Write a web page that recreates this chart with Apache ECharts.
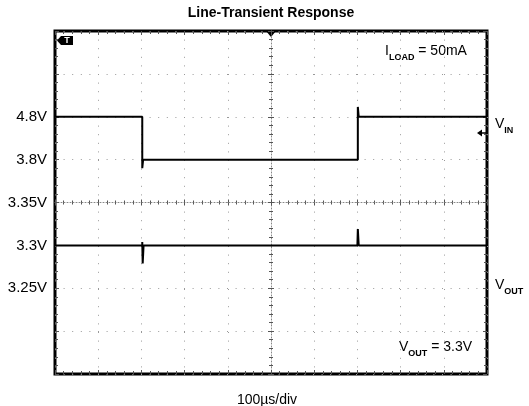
<!DOCTYPE html>
<html>
<head>
<meta charset="utf-8">
<script src="https://cdn.jsdelivr.net/npm/echarts@6.0.0/dist/echarts.min.js"></script>
<style>
  html, body { margin: 0; padding: 0; background: #fff; }
  #chart { width: 529px; height: 406px; }
</style>
</head>
<body>
<div id="chart"></div>
<script>
// scope screen: 10 x 8 divisions, time in µs relative to trigger (centre)
const divTicks = [-2, -1, 0, 1, 2];
const divTickLabels = ['3.25V', '3.3V', '3.35V', '3.8V', '4.8V'];

// V_IN trace (1V/div)
const vinTime  = [-500, -298, -298, -296, 201, 201, 203, 500];
const vinVolts = [4.8, 4.8, 3.6, 3.8, 3.8, 5.03, 4.8, 4.8];

// V_OUT trace (50mV/div)
const voutTime  = [-500, -298, -298, -297, -295, 200, 201, 203, 500];
const voutVolts = [3.3, 3.3, 3.304, 3.279, 3.3, 3.3, 3.319, 3.3, 3.3];

const FONT = 'Liberation Sans, Arial, sans-serif';

const chartDom = document.getElementById('chart');
const myChart = echarts.init(chartDom);

const dotted = { color: '#999', width: 1, type: [1, 7.6] };
const centreLine = { color: '#888', width: 1, type: [1, 2] };
const tickStyle = { color: '#555', width: 1 };

function frameAxis(pos, extra) {
    return Object.assign({
        type: 'value',
        position: pos,
        axisLine: { show: false, onZero: false },
        axisTick: { show: true, inside: true, length: 4, lineStyle: tickStyle },
        minorTick: { show: true, splitNumber: 5, length: 3, lineStyle: tickStyle },
        axisLabel: { show: false },
        splitLine: { show: false }
    }, extra);
}

function centreAxis(pos, inside, showLine) {
    return {
        type: 'value',
        position: pos,
        axisLine: { show: showLine, onZero: true, onZeroAxisIndex: 0, lineStyle: centreLine },
        axisTick: { show: true, inside: inside, length: 3, lineStyle: tickStyle },
        minorTick: { show: true, splitNumber: 5, length: 2, lineStyle: tickStyle },
        axisLabel: { show: false },
        splitLine: { show: false }
    };
}

const xRange = { min: -500, max: 500, interval: 100 };
const yRange = { min: -4, max: 4, interval: 1 };

const richSub = {
    m: { fontSize: 14, fontFamily: FONT, lineHeight: 15, verticalAlign: 'top' },
    s: { fontSize: 9, fontWeight: 'bold', fontFamily: FONT, lineHeight: 9, verticalAlign: 'bottom', padding: [0, 0, -3, 0] }
};

const option = {
    animation: false,
    textStyle: { fontFamily: FONT },
    grid: {
        left: 55, right: 42, top: 31, bottom: 32,
        outerBoundsMode: 'none', containLabel: false,
        show: true, borderColor: '#000', borderWidth: 3, backgroundColor: 'transparent'
    },
    xAxis: [
        frameAxis('bottom', Object.assign({}, xRange, {
            splitLine: { show: true, lineStyle: dotted },
            name: '100µs/div', nameLocation: 'middle', nameGap: 19,
            nameTextStyle: { fontSize: 14, color: '#000', fontFamily: FONT, padding: [0, 8, 0, 0] }
        })),
        frameAxis('top', xRange),
        Object.assign(centreAxis('bottom', true, true), xRange),
        Object.assign(centreAxis('bottom', false, false), xRange)
    ],
    yAxis: [
        frameAxis('left', Object.assign({}, yRange, {
            splitLine: { show: true, lineStyle: dotted },
            axisLabel: {
                show: true, fontSize: 15, color: '#000', margin: 8, fontFamily: FONT,
                formatter: function (v) {
                    const i = divTicks.indexOf(v);
                    return i >= 0 ? divTickLabels[i] : '';
                }
            }
        })),
        frameAxis('right', yRange),
        Object.assign(centreAxis('left', true, true), yRange),
        Object.assign(centreAxis('left', false, false), yRange),
        { type: 'value', show: false, min: -1.2, max: 6.8, axisLine: { onZero: false } },
        { type: 'value', show: false, min: 3.15, max: 3.55, axisLine: { onZero: false } }
    ],
    series: [
        {
            name: 'VIN', type: 'line', yAxisIndex: 4, showSymbol: false,
            lineStyle: { color: '#000', width: 2 },
            data: vinTime.map((t, i) => [t, vinVolts[i]])
        },
        {
            name: 'VOUT', type: 'line', yAxisIndex: 5, showSymbol: false,
            lineStyle: { color: '#000', width: 2 },
            data: voutTime.map((t, i) => [t, voutVolts[i]])
        }
    ],
    graphic: [
        {
            type: 'text', x: 271, y: 13,
            style: { text: 'Line-Transient Response', fontSize: 14, fontWeight: 'bold', fontFamily: FONT,
                     fill: '#000', align: 'center', verticalAlign: 'middle' }
        },
        // trigger marker
        { type: 'polygon', shape: { points: [[57, 40.5], [61, 36], [73, 36], [73, 45], [61, 45]] }, style: { fill: '#000' } },
        { type: 'text', x: 67, y: 41, style: { text: 'T', fontSize: 9, fontWeight: 'bold', fontFamily: FONT,
                 fill: '#fff', align: 'center', verticalAlign: 'middle' } },
        // trigger position
        { type: 'polygon', shape: { points: [[266, 31], [276, 31], [271, 37]] }, style: { fill: '#000' } },
        // channel marker
        { type: 'polygon', shape: { points: [[477, 133], [482, 129.5], [482, 136.5]] }, style: { fill: '#000' } },
        { type: 'line', shape: { x1: 481, y1: 133, x2: 487, y2: 133 }, style: { stroke: '#000', lineWidth: 1.5 } },
        {
            type: 'text', x: 385, y: 52,
            style: { text: '{m|I}{s|LOAD}{m| = 50mA}', fontFamily: FONT, fill: '#000', verticalAlign: 'middle', rich: richSub }
        },
        {
            type: 'text', x: 399, y: 348,
            style: { text: '{m|V}{s|OUT}{m| = 3.3V}', fontFamily: FONT, fill: '#000', verticalAlign: 'middle', rich: richSub }
        },
        {
            type: 'text', x: 495, y: 125,
            style: { text: '{m|V}{s|IN}', fontFamily: FONT, fill: '#000', verticalAlign: 'middle', rich: richSub }
        },
        {
            type: 'text', x: 495, y: 286,
            style: { text: '{m|V}{s|OUT}', fontFamily: FONT, fill: '#000', verticalAlign: 'middle', rich: richSub }
        }
    ]
};

myChart.setOption(option);

window.addEventListener('resize', function () {
    myChart.resize();
});
</script>
</body>
</html>
